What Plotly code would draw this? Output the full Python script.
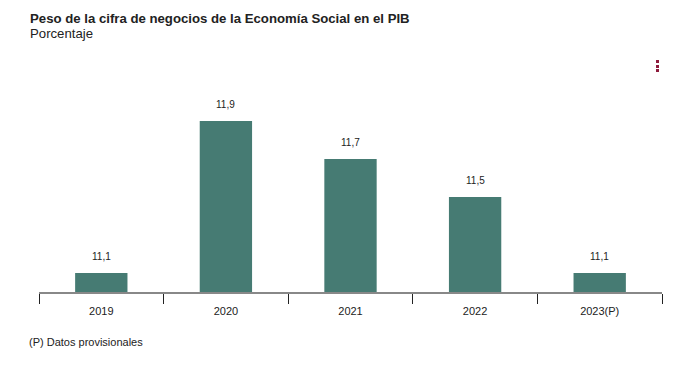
import plotly.graph_objects as go

categories = ["2019", "2020", "2021", "2022", "2023(P)"]
values = [11.1, 11.9, 11.7, 11.5, 11.1]
labels = ["11,1", "11,9", "11,7", "11,5", "11,1"]

W, H = 691, 368
L, R, T, B = 39, 29, 100, 76
pw, ph = W - L - R, H - T - B

def px_x(x):
    return (x - L) / pw

def px_y(y):
    return (H - B - y) / ph

fig = go.Figure()
fig.add_trace(go.Bar(
    x=categories, y=values, base=0,
    marker=dict(color="#467b73", line=dict(width=0)),
    hoverinfo="x+y",
))

for i, (v, t) in enumerate(zip(values, labels)):
    fig.add_annotation(x=i, y=v, text=t, showarrow=False, yanchor="bottom",
                       yshift=9, font=dict(size=10, color="#222"))

fig.add_annotation(xref="paper", yref="paper", x=px_x(28), y=px_y(9), xanchor="left", yanchor="top",
                   text="<b>Peso de la cifra de negocios de la Economía Social en el PIB</b>",
                   showarrow=False, font=dict(size=13.2, color="#222"))
fig.add_annotation(xref="paper", yref="paper", x=px_x(28), y=px_y(24), xanchor="left", yanchor="top",
                   text="Porcentaje", showarrow=False, font=dict(size=13.2, color="#222"))
fig.add_annotation(xref="paper", yref="paper", x=px_x(27), y=px_y(334), xanchor="left", yanchor="top",
                   text="(P) Datos provisionales", showarrow=False, font=dict(size=11, color="#222"))

for y0 in (60, 65, 69):
    fig.add_shape(type="rect", xref="paper", yref="paper",
                  x0=px_x(656), x1=px_x(659), y0=px_y(y0), y1=px_y(y0 + 3),
                  fillcolor="#8e1b3c", line=dict(width=0))

fig.update_layout(
    width=W, height=H,
    margin=dict(l=L, r=R, t=T, b=B, autoexpand=False),
    paper_bgcolor="white", plot_bgcolor="white",
    font=dict(family="Liberation Sans, Arial, sans-serif", color="#222"),
    showlegend=False,
    bargap=0.58,
    xaxis=dict(type="category", range=[-0.5, 4.5], showline=True, linecolor="#888", linewidth=2,
               ticks="outside", tickson="boundaries", ticklen=10, tickcolor="#222", tickwidth=1,
               tickangle=0, automargin=False, ticklabelstandoff=8,
               tickfont=dict(size=11, color="#222"), showgrid=False),
    yaxis=dict(range=[11.0, 12.0105], visible=False, showgrid=False, zeroline=False,
               automargin=False),
)

fig.write_html("out.html", config={"displayModeBar": False},
               post_script="document.body.style.margin='0';")
